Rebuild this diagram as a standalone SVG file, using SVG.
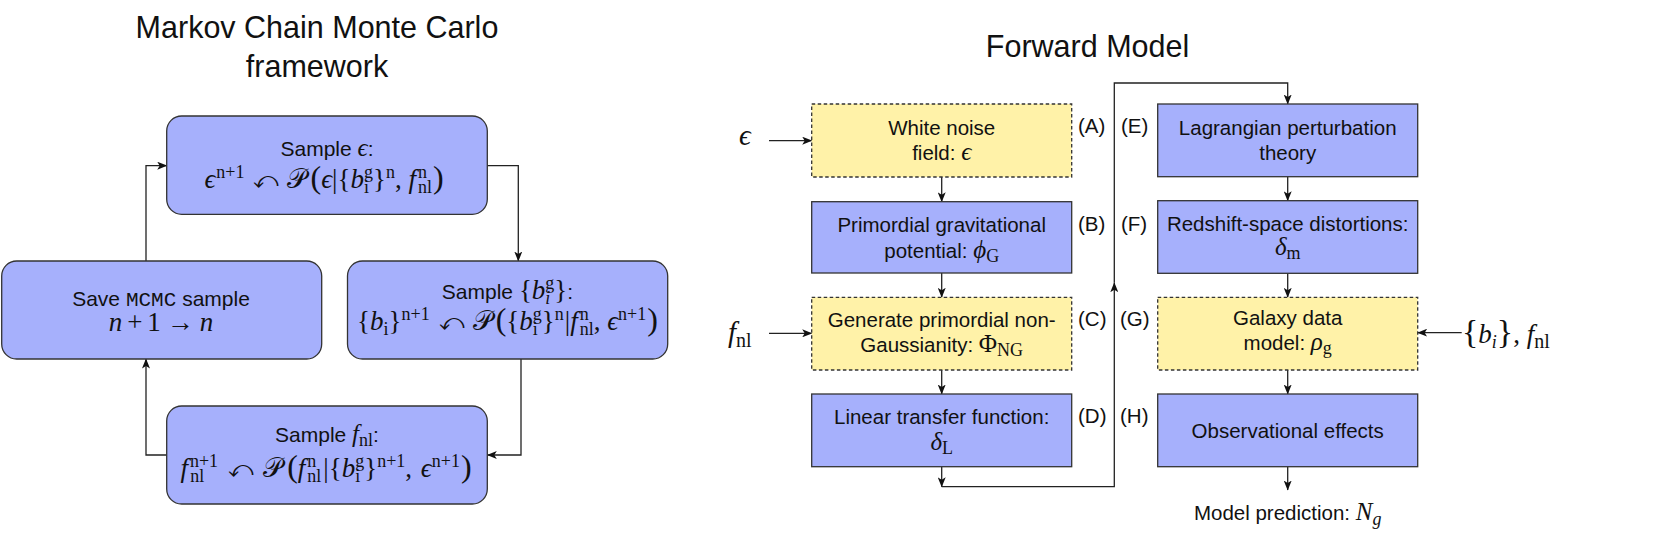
<svg xmlns="http://www.w3.org/2000/svg" width="1661" height="559" viewBox="0 0 1661 559">
<defs>
<marker id="ah" viewBox="0 0 10 8" refX="9.5" refY="4" markerWidth="10" markerHeight="8" markerUnits="userSpaceOnUse" orient="auto">
<path d="M0,0 L10,4 L0,8 L2.5,4 Z" fill="#111"/>
</marker>
<style>
.t{font-family:"Liberation Sans",Arial,sans-serif;fill:#111}
.ttl{font-size:30.5px}
.l{font-size:21px}
.r{font-size:20.5px}
.m{font-family:"Liberation Serif","DejaVu Serif",serif;fill:#111;font-size:27px}
.mm{font-size:25px}
.big{font-size:29px}
.i{font-style:italic}
.s{font-size:18px;font-style:normal}
.si{font-size:18px;font-style:italic}
.p{font-size:32px}
.arr{font-family:"DejaVu Sans",sans-serif;font-size:24px;font-weight:normal}
.mono{font-family:"Liberation Mono","DejaVu Sans Mono",monospace}
.bx{fill:#a6b0fc;stroke:#333;stroke-width:1.3}
.ybx{fill:#fff2a8;stroke:#333;stroke-width:1.3;stroke-dasharray:3.5 2.5}
.ca{fill:none;stroke:#222;stroke-width:1.3;marker-end:url(#ah)}
</style>
</defs>
<rect width="1661" height="559" fill="#fff"/>

<g id="titles">
<text class="t ttl" x="317" y="38" text-anchor="middle">Markov Chain Monte Carlo</text>
<text class="t ttl" x="317" y="77" text-anchor="middle">framework</text>
<text class="t ttl" x="1087.5" y="57" text-anchor="middle">Forward Model</text>
</g>

<g id="connectors">
<path class="ca" d="M146,261 V165.7 H166.7"/>
<path class="ca" d="M487.3,165.7 H518.3 V261"/>
<path class="ca" d="M521,359 V455 H487.3"/>
<path class="ca" d="M166.7,455 H146 V359"/>
<path class="ca" d="M769,140.7 H811.7"/>
<path class="ca" d="M941.7,177 V201.7"/>
<path class="ca" d="M941.7,273 V297.3"/>
<path class="ca" d="M769,333.3 H811.7"/>
<path class="ca" d="M941.7,370 V394"/>
<path class="ca" d="M941.7,466.7 V486.7"/>
<path class="ca" d="M941.7,486.7 H1114.3 V282.7"/>
<path class="ca" d="M1114.3,282.7 V83 H1287.7 V104"/>
<path class="ca" d="M1287.7,176.7 V200.7"/>
<path class="ca" d="M1287.7,273.3 V297.3"/>
<path class="ca" d="M1461.7,332.7 H1417.7"/>
<path class="ca" d="M1287.7,370 V394"/>
<path class="ca" d="M1287.7,466.7 V490"/>
</g>

<g id="sample-eps">
<rect class="bx" x="166.7" y="116" width="320.6" height="98.3" rx="15"/>
<text class="t l" x="327" y="156" text-anchor="middle">Sample <tspan class="m mm i">ϵ</tspan>:</text>
<text class="m" x="324" y="188" text-anchor="middle"><tspan class="i">ϵ</tspan><tspan class="s" dx="1" dy="-10">n+1</tspan><tspan class="arr" dx="9" dy="10">⤺</tspan><tspan dx="8">𝒫</tspan><tspan class="p" dx="4">(</tspan><tspan class="i">ϵ</tspan>|{<tspan class="i">b</tspan><tspan class="s" dy="-10">g</tspan><tspan class="s" dx="-9" dy="15">i</tspan><tspan dx="4" dy="-5">}</tspan><tspan class="s" dy="-10">n</tspan><tspan dy="10">, </tspan><tspan class="i">f</tspan><tspan class="s" dx="2" dy="-10">n</tspan><tspan class="s" dx="-9" dy="15">nl</tspan><tspan class="p" dx="1" dy="-5">)</tspan></text>
</g>

<g id="save-mcmc">
<rect class="bx" x="1.7" y="261" width="320" height="98" rx="15"/>
<text class="t l" x="161" y="306" text-anchor="middle">Save <tspan class="mono">MCMC</tspan> sample</text>
<text class="m" x="161" y="331" text-anchor="middle" font-size="28"><tspan class="i">n</tspan><tspan dx="5">+</tspan><tspan dx="5">1</tspan><tspan dx="6">→</tspan><tspan class="i" dx="6">n</tspan></text>
</g>

<g id="sample-b">
<rect class="bx" x="347.5" y="261" width="320.2" height="98" rx="15"/>
<text class="t l" x="507.5" y="299" text-anchor="middle">Sample <tspan class="m">{</tspan><tspan class="m i">b</tspan><tspan class="m s" dy="-10">g</tspan><tspan class="m si" dx="-9" dy="15">i</tspan><tspan class="m" dx="4" dy="-5">}</tspan>:</text>
<text class="m" x="507.5" y="330" text-anchor="middle">{<tspan class="i">b</tspan><tspan class="s" dy="5">i</tspan><tspan dy="-5">}</tspan><tspan class="s" dy="-10">n+1</tspan><tspan class="arr" dx="9" dy="10">⤺</tspan><tspan dx="8">𝒫</tspan><tspan class="p" dx="4">(</tspan>{<tspan class="i">b</tspan><tspan class="s" dy="-10">g</tspan><tspan class="s" dx="-9" dy="15">i</tspan><tspan dx="4" dy="-5">}</tspan><tspan class="s" dy="-10">n</tspan><tspan dx="1" dy="10">|</tspan><tspan class="i">f</tspan><tspan class="s" dx="2" dy="-10">n</tspan><tspan class="s" dx="-9" dy="15">nl</tspan><tspan dy="-5">, </tspan><tspan class="i">ϵ</tspan><tspan class="s" dy="-10">n+1</tspan><tspan class="p" dx="1" dy="10">)</tspan></text>
</g>

<g id="sample-fnl">
<rect class="bx" x="166.7" y="406" width="320.6" height="98" rx="15"/>
<text class="t l" x="327" y="442" text-anchor="middle">Sample <tspan class="m mm i">f</tspan><tspan class="m s" dy="4">nl</tspan><tspan dy="-4">:</tspan></text>
<text class="m" x="326" y="477" text-anchor="middle"><tspan class="i">f</tspan><tspan class="s" dx="2" dy="-10">n+1</tspan><tspan class="s" dx="-28" dy="15">nl</tspan><tspan class="arr" dx="24" dy="-5">⤺</tspan><tspan dx="9">𝒫</tspan><tspan class="p" dx="5">(</tspan><tspan class="i">f</tspan><tspan class="s" dx="2" dy="-10">n</tspan><tspan class="s" dx="-9" dy="15">nl</tspan><tspan dx="2" dy="-5">|{</tspan><tspan class="i">b</tspan><tspan class="s" dy="-10">g</tspan><tspan class="s" dx="-9" dy="15">i</tspan><tspan dx="4" dy="-5">}</tspan><tspan class="s" dy="-10">n+1</tspan><tspan dy="10">, </tspan><tspan class="i" dx="2">ϵ</tspan><tspan class="s" dy="-10">n+1</tspan><tspan class="p" dx="1" dy="10">)</tspan></text>
</g>

<g id="input-eps">
<text class="m i big" x="739" y="145">ϵ</text>
</g>
<g id="input-fnl">
<text class="m big" x="728" y="342"><tspan class="i">f</tspan><tspan font-size="20" dy="5">nl</tspan></text>
</g>
<g id="input-bias">
<text class="m" font-size="30" x="1462" y="343"><tspan font-size="34">{</tspan><tspan class="i">b</tspan><tspan class="si" font-size="20" dy="5">i</tspan><tspan font-size="34" dy="-5">}</tspan>, <tspan class="i">f</tspan><tspan font-size="20" dy="5">nl</tspan></text>
</g>

<g id="node-A">
<rect class="ybx" x="811.7" y="104" width="260" height="73"/>
<text class="t r" x="941.7" y="135" text-anchor="middle">White noise</text>
<text class="t r" x="941.7" y="160" text-anchor="middle">field: <tspan class="m mm i">ϵ</tspan></text>
<text class="t r" x="1078" y="133">(A)</text>
</g>
<g id="node-B">
<rect class="bx" x="811.7" y="201.7" width="260" height="71.3"/>
<text class="t r" x="941.7" y="232" text-anchor="middle">Primordial gravitational</text>
<text class="t r" x="941.7" y="258" text-anchor="middle">potential: <tspan class="m mm i">ϕ</tspan><tspan class="m s" dy="4">G</tspan></text>
<text class="t r" x="1078" y="231">(B)</text>
</g>
<g id="node-C">
<rect class="ybx" x="811.7" y="297.3" width="260" height="72.7"/>
<text class="t r" x="941.7" y="326.7" text-anchor="middle">Generate primordial non-</text>
<text class="t r" x="941.7" y="351.7" text-anchor="middle">Gaussianity: <tspan class="m mm">Φ</tspan><tspan class="m s" dy="4">NG</tspan></text>
<text class="t r" x="1078" y="326">(C)</text>
</g>
<g id="node-D">
<rect class="bx" x="811.7" y="394" width="260" height="72.7"/>
<text class="t r" x="941.7" y="424.3" text-anchor="middle">Linear transfer function:</text>
<text class="m mm" x="941.7" y="450" text-anchor="middle"><tspan class="i">δ</tspan><tspan class="s" dy="4">L</tspan></text>
<text class="t r" x="1078" y="423">(D)</text>
</g>
<g id="node-E">
<rect class="bx" x="1157.7" y="104" width="260" height="72.7"/>
<text class="t r" x="1287.7" y="135" text-anchor="middle">Lagrangian perturbation</text>
<text class="t r" x="1287.7" y="160" text-anchor="middle">theory</text>
<text class="t r" x="1121" y="133">(E)</text>
</g>
<g id="node-F">
<rect class="bx" x="1157.7" y="200.7" width="260" height="72.6"/>
<text class="t r" x="1287.7" y="231" text-anchor="middle">Redshift-space distortions:</text>
<text class="m mm" x="1287.7" y="255" text-anchor="middle"><tspan class="i">δ</tspan><tspan class="s" dy="4">m</tspan></text>
<text class="t r" x="1121" y="231">(F)</text>
</g>
<g id="node-G">
<rect class="ybx" x="1157.7" y="297.3" width="260" height="72.7"/>
<text class="t r" x="1287.7" y="325" text-anchor="middle">Galaxy data</text>
<text class="t r" x="1287.7" y="350" text-anchor="middle">model: <tspan class="m mm i">ρ</tspan><tspan class="m s" dy="4">g</tspan></text>
<text class="t r" x="1120" y="326">(G)</text>
</g>
<g id="node-H">
<rect class="bx" x="1157.7" y="394" width="260" height="72.7"/>
<text class="t r" x="1287.7" y="437.7" text-anchor="middle">Observational effects</text>
<text class="t r" x="1120" y="423">(H)</text>
</g>
<g id="output">
<text class="t r" x="1287.7" y="520" text-anchor="middle">Model prediction: <tspan class="m mm i">N</tspan><tspan class="m si" dy="5">g</tspan></text>
</g>
</svg>
